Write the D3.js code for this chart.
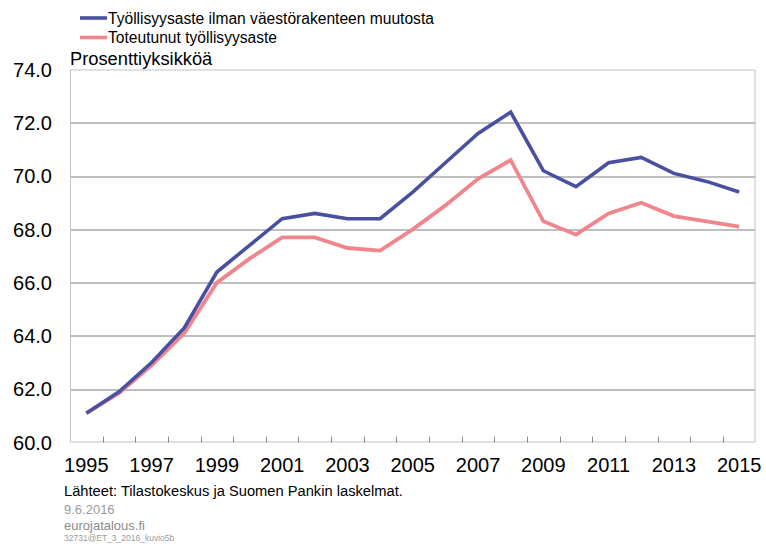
<!DOCTYPE html>
<html>
<head>
<meta charset="utf-8">
<script src="https://cdn.jsdelivr.net/npm/d3@7"></script>
<style>
  body { margin: 0; background: #fff; }
  svg { display: block; font-family: "Liberation Sans", Arial, sans-serif; }
</style>
</head>
<body>
<script>
const years = d3.range(1995, 2016);
const tickYears = [1995, 1997, 1999, 2001, 2003, 2005, 2007, 2009, 2011, 2013, 2015];
const yTicks = [60, 62, 64, 66, 68, 70, 72, 74];

// Työllisyysaste ilman väestörakenteen muutosta
const adjusted = [61.1, 61.9, 63.0, 64.3, 66.4, 67.4, 68.4, 68.6, 68.4, 68.4, 69.4,
  70.5, 71.6, 72.4, 70.2, 69.6, 70.5, 70.7, 70.1, 69.8, 69.4];
// Toteutunut työllisyysaste
const actual = [61.1, 61.85, 62.9, 64.1, 66.0, 66.9, 67.7, 67.7, 67.3, 67.2, 68.0,
  68.9, 69.9, 70.6, 68.3, 67.8, 68.6, 69.0, 68.5, 68.3, 68.1];

const seriesNames = ["Työllisyysaste ilman väestörakenteen muutosta", "Toteutunut työllisyysaste"];
const seriesColors = ["#4a50a0", "#f0868d"];

const width = 766, height = 547;
const margin = { top: 69.5, right: 10.5, bottom: 104.5, left: 70 };
const innerW = width - margin.left - margin.right,
  innerH = height - margin.top - margin.bottom;

const svg = d3.select("body").append("svg")
  .attr("width", width)
  .attr("height", height);

const g = svg.append("g")
  .attr("transform", `translate(${margin.left}, ${margin.top})`);

const x = d3.scaleBand().domain(years).range([0, innerW]);
const y = d3.scaleLinear().domain([60, 74]).range([innerH, 0]);

// gridlines
g.selectAll(".grid")
  .data(yTicks.filter(d => d > 60 && d < 74))
  .enter()
  .append("line")
  .attr("x1", 0)
  .attr("x2", innerW)
  .attr("y1", d => Math.round(y(d)) + 0.5)
  .attr("y2", d => Math.round(y(d)) + 0.5)
  .attr("stroke", "#7f7f7f")
  .attr("stroke-width", 1);

// plot border
g.append("rect")
  .attr("x", 0.5)
  .attr("y", 0.5)
  .attr("width", innerW - 1)
  .attr("height", innerH - 1)
  .attr("fill", "none")
  .attr("stroke", "#c4c4c4")
  .attr("stroke-width", 1);

// x ticks between categories, pointing up
g.selectAll(".xtick")
  .data(years.slice(1))
  .enter()
  .append("line")
  .attr("x1", d => Math.round(x(d)) + 0.5)
  .attr("x2", d => Math.round(x(d)) + 0.5)
  .attr("y1", innerH)
  .attr("y2", innerH - 6)
  .attr("stroke", "#8a8a8a");

// y labels
g.selectAll(".ylab")
  .data(yTicks)
  .enter()
  .append("text")
  .attr("x", -18)
  .attr("y", d => y(d))
  .attr("dy", "0.36em")
  .attr("text-anchor", "end")
  .style("font-size", "20px")
  .attr("fill", "#000")
  .text(d => d.toFixed(1));

// x labels
g.selectAll(".xlab")
  .data(tickYears)
  .enter()
  .append("text")
  .attr("x", d => x(d) + x.bandwidth() / 2)
  .attr("y", innerH + 29)
  .attr("text-anchor", "middle")
  .style("font-size", "20px")
  .attr("fill", "#000")
  .text(d => d);

const line = d3.line()
  .x((d, i) => x(years[i]) + x.bandwidth() / 2)
  .y(d => y(d));

g.append("path")
  .datum(actual)
  .attr("fill", "none")
  .attr("stroke", seriesColors[1])
  .attr("stroke-width", 3.8)
  .attr("d", line);

g.append("path")
  .datum(adjusted)
  .attr("fill", "none")
  .attr("stroke", seriesColors[0])
  .attr("stroke-width", 3.6)
  .attr("d", line);

// unit label
svg.append("text")
  .attr("x", 70)
  .attr("y", 65)
  .style("font-size", "18.3px")
  .text("Prosenttiyksikköä");

// legend
const legend = svg.selectAll(".legend")
  .data(seriesNames)
  .enter()
  .append("g")
  .attr("transform", (d, i) => `translate(80, ${18 + i * 19.5})`);

legend.append("line")
  .attr("x1", 0)
  .attr("x2", 27)
  .attr("stroke", (d, i) => seriesColors[i])
  .attr("stroke-width", 3.6);

legend.append("text")
  .attr("x", 28)
  .attr("dy", "0.36em")
  .style("font-size", "15.6px")
  .text(d => d);

// footer
svg.append("text")
  .attr("x", 64)
  .attr("y", 496)
  .style("font-size", "14.7px")
  .text("Lähteet: Tilastokeskus ja Suomen Pankin laskelmat.");

svg.append("text")
  .attr("x", 64)
  .attr("y", 514)
  .style("font-size", "13px")
  .attr("fill", "#9a9a9a")
  .text("9.6.2016");

svg.append("text")
  .attr("x", 64)
  .attr("y", 530)
  .style("font-size", "13px")
  .attr("fill", "#8a8a8a")
  .text("eurojatalous.fi");

svg.append("text")
  .attr("x", 64)
  .attr("y", 541)
  .style("font-size", "8.5px")
  .attr("fill", "#9a9a9a")
  .text("32731@ET_3_2016_kuvio5b");
</script>
</body>
</html>
